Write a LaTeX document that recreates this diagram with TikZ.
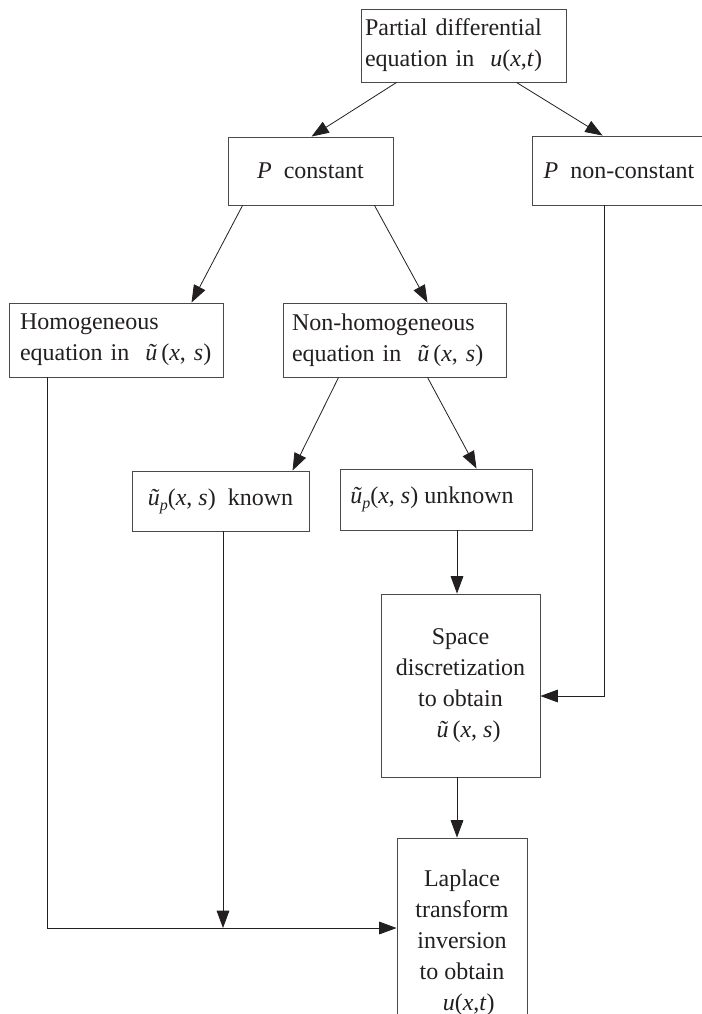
\documentclass[tikz,border=0pt]{standalone}
\usepackage{fontspec}
\setmainfont{Liberation Serif}
\usetikzlibrary{arrows.meta,calc}
\definecolor{ink}{HTML}{231F20}
\definecolor{edge}{HTML}{4A4A4A}
\newcommand{\itl}[1]{\textit{#1}}
\newcommand{\usub}{\itl{ũ}\raisebox{-0.45ex}{\fontsize{12}{12}\selectfont\itshape p}}
\begin{document}
\begin{tikzpicture}[x=0.75pt,y=-0.75pt,
  box/.style={draw=edge,line width=0.7pt,text=ink,inner sep=0pt,
    font=\fontsize{18}{23.25}\selectfont},
  conn/.style={draw=ink,line width=0.6pt},
  arr/.style={conn,-{Triangle[length=13pt,width=9.5pt]}}]
\clip (0,0) rectangle (702,1014);
\fill[white] (0,0) rectangle (702,1014);

\node[box,minimum width=153.75pt,minimum height=54.75pt,text width=147.75pt,align=left]
  (top) at (463.5,45.5) {Partial differential\\equation in\ \ \itl{u}(\itl{x},\itl{t})};
\node[box,minimum width=123.75pt,minimum height=51pt,align=center]
  (pc) at (310.5,171) {\itl{P}\ \ constant};
\node[box,minimum width=130.5pt,minimum height=51.75pt,align=center]
  (pnc) at (619,170.5) {\itl{P}\hspace{0.5em}non-constant};
\node[box,minimum width=160.5pt,minimum height=55.5pt,text width=144pt,align=left]
  (hom) at (116,340) {Homogeneous\\equation in\ \ \itl{ũ}\,(\itl{x}, \itl{s})};
\node[box,minimum width=167.25pt,minimum height=55.5pt,text width=153.75pt,align=left]
  (nhom) at (394.5,340) {Non-homogeneous\\equation in\ \ \itl{ũ}\,(\itl{x}, \itl{s})};
\node[box,minimum width=132.75pt,minimum height=45pt,align=center]
  (known) at (220.5,501) {\usub(\itl{x}, \itl{s})\ \ known};
\node[box,minimum width=144pt,minimum height=45.75pt,align=center]
  (unknown) at (436,499.5) {\usub(\itl{x}, \itl{s}) unknown\hspace{6pt}};
\node[box,minimum width=119.25pt,minimum height=137.25pt,align=center]
  (space) at (460.5,685.5) {Space\\discretization\\to obtain\\\hspace{12pt}\itl{ũ}\,(\itl{x}, \itl{s})};
\node[box,minimum width=97.5pt,minimum height=157.5pt,align=center]
  (lap) at (462,943) {Laplace\\transform\\inversion\\to obtain\\\hspace{10pt}\itl{u}(\itl{x},\itl{t})};

\draw[arr] ($(top.south west)+(36,0)$) -- ($(pc.north west)+(84,0)$);
\draw[arr] ($(top.south west)+(156,0)$) -- ($(pnc.north west)+(71,0)$);
\draw[arr] ($(pc.south west)+(15,0)$) -- ($(hom.north west)+(183,0)$);
\draw[arr] ($(pc.south west)+(147,0)$) -- ($(nhom.north west)+(145,0)$);
\draw[arr] ($(nhom.south west)+(56,0)$) -- ($(known.north west)+(161,0)$);
\draw[arr] ($(nhom.south west)+(145,0)$) -- ($(unknown.north west)+(137,0)$);

\coordinate (v) at (457,0);
\draw[arr] (unknown.south -| v) -- (space.north -| v);
\draw[arr] (space.south -| v) -- (lap.north -| v);

\coordinate (r) at (604,696);
\draw[arr] (pnc.south -| r) -- (r) -- (space.east |- r);

\coordinate (b) at (47,928);
\draw[arr] (hom.south -| b) -- (b) -- (lap.west |- b);

\coordinate (k) at (223,928);
\draw[arr] (known.south -| k) -- (k);
\end{tikzpicture}
\end{document}
